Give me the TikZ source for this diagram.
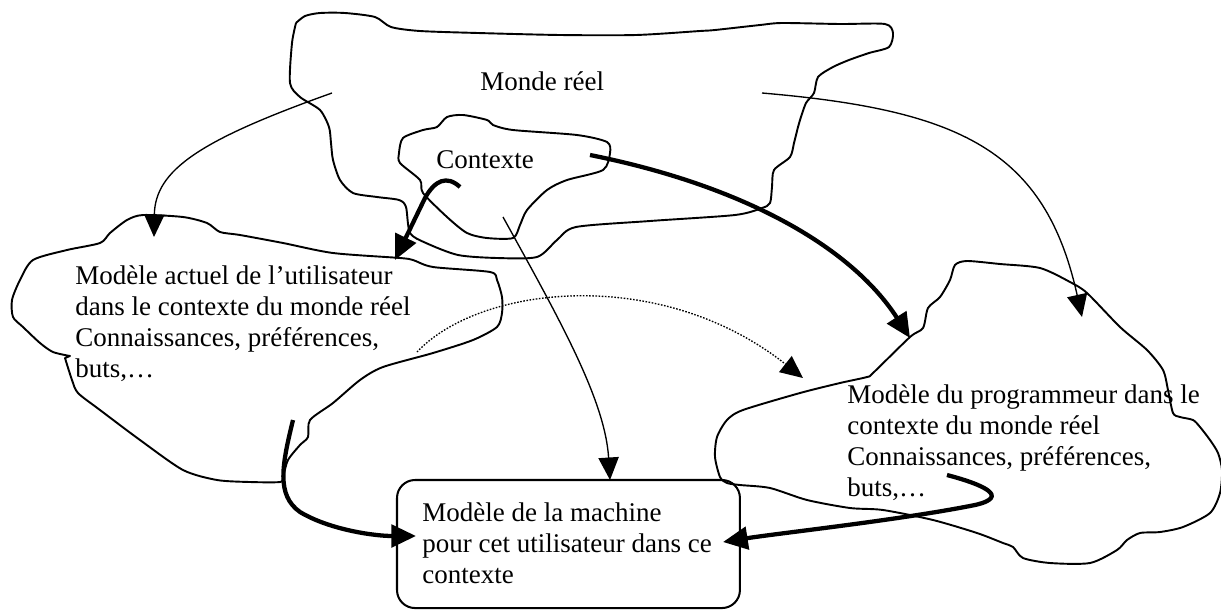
\documentclass[tikz,border=0pt]{standalone}
\usepackage{fontspec}
\setmainfont{Liberation Serif}
\usetikzlibrary{arrows.meta}
\newcommand{\lines}[1]{\begin{tabular}[t]{@{}l@{}}#1\end{tabular}}
\begin{document}
\begin{tikzpicture}[x=0.4444pt,y=-0.4444pt,
  outline/.style={line width=0.85pt, line join=round},
  thinarrow/.style={line width=0.6pt,-{Triangle[length=10pt,width=9pt]}},
  thickarrow/.style={line width=1.9pt,-{Triangle[length=11pt,width=10pt]}},
  dotarrow/.style={line width=0.6pt, dash pattern=on 0.7pt off 0.7pt, -{Triangle[length=10pt,width=9pt]}},
  lbl/.style={inner sep=0pt, anchor=base west, font=\fontsize{12}{13.8}\selectfont},
  machbox/.style={draw, line width=0.9pt, rounded corners=8pt, inner sep=0pt, outer sep=0pt, anchor=north west, minimum width=152.4pt, minimum height=56.9pt}]
\useasboundingbox (0,0) rectangle (1221,610);

% Monde reel cloud
\draw[outline] plot[smooth, tension=0.45] coordinates {
(296,23) (305,16) (320,13) (345,13) (375,17) (391,27) (420,31) (478,33) (560,35) (636,35) (700,31) (715,30) (760,25) (782,23) (840,24) (885,24) (893,33) (889,47) (869,53) (849,60) (833,67) (818,77) (814,93) (806,103) (800,120) (798,127) (794,143) (790,157) (774,170) (772,187) (770,203) (762,208) (735,215) (650,221) (576,227) (557,240) (537,257) (497,258) (458,255) (426,243) (410,233) (406,207) (399,200) (377,197) (353,193) (340,180) (333,160) (331,143) (329,127) (320,110) (300,97) (290,83) (292,43) (296,23)};

% Contexte cloud
\draw[outline] plot[smooth cycle, tension=0.45] coordinates {
(399,153) (403,138) (423,130) (437,127) (447,117) (463,115) (487,120) (493,125) (513,130) (577,135) (607,142) (610,153) (603,170) (567,180) (547,190) (527,210) (520,225) (513,238) (487,238) (467,233) (447,217) (423,193) (420,180) (400,163)};

% user cloud
\draw[outline] plot[smooth, tension=0.45] coordinates {
(65,358) (72,380) (78,393) (100,410) (140,440) (183,470) (217,480) (250,482) (280,482) (283,477) (288,460) (300,445) (308,437) (310,420) (333,403) (360,380) (383,367) (433,353) (473,340) (497,327) (502,313) (502,297) (497,280) (490,272) (433,267) (413,260) (400,258) (333,253) (283,243) (240,235) (220,232) (207,223) (183,217) (143,215) (127,220) (110,233) (100,243) (67,250) (33,260) (20,280) (12,300) (13,317) (23,327) (40,343) (53,352) (70,356)} -- cycle;

% programmer cloud
\draw[outline] plot[smooth cycle, tension=0.45] coordinates {
(923,328) (928,308) (940,297) (950,280) (955,265) (967,261) (1000,264) (1040,268) (1070,282) (1087,293) (1120,327) (1147,350) (1163,370) (1168,390) (1173,413) (1180,417) (1193,420) (1200,427) (1210,440) (1218,453) (1222,470) (1220,493) (1210,513) (1183,527) (1160,532) (1140,533) (1127,540) (1117,550) (1090,563) (1050,563) (1023,558) (1013,547) (1003,543) (977,533) (933,520) (883,510) (850,508) (807,500) (770,488) (740,485) (727,483) (720,477) (715,457) (717,437) (727,420) (743,410) (800,393) (840,383) (867,377) (873,373) (910,337)};

% machine box
\node[machbox] (box) at (397,480) {};

% labels
\node[lbl] (monde) at (480,90) {Monde réel};
\node[lbl] (ctx) at (436,168) {Contexte};
\node[lbl] (user) at (75,284) {\lines{Modèle actuel de l’utilisateur\\dans le contexte du monde réel\\Connaissances, préférences,\\buts,…}};
\node[lbl] (prog) at (847,403) {\lines{Modèle du programmeur dans le\\contexte du monde réel\\Connaissances, préférences,\\buts,…}};
\node[lbl] (mach) at (422,521) {\lines{Modèle de la machine\\pour cet utilisateur dans ce\\contexte}};

% connector end points
\coordinate (mondeL) at (332,93);
\coordinate (mondeR) at (762,93);
\coordinate (ctxR) at (590,155);
\coordinate (ctxHook) at (460,187);
\coordinate (ctxB) at (503,217);
\coordinate (userIn) at (154,237);
\coordinate (userTop) at (395,260);
\coordinate (userOut) at (293,420);
\coordinate (userDot) at (417,352);
\coordinate (progTop) at (1082,317);
\coordinate (progL) at (910,338);
\coordinate (progDot) at (803,378);
\coordinate (progOut) at (947,475);
\coordinate (boxT) at (610,480);
\coordinate (boxL) at (416,536);
\coordinate (boxR) at (723,542);

% connectors
\draw[thinarrow] (mondeL) .. controls (200,140) and (155,170) .. (userIn);
\draw[thinarrow] (mondeR) .. controls (960,110) and (1045,150) .. (progTop);
\draw[thickarrow] (ctxR) .. controls (740,185) and (850,245) .. (progL);
\draw[thickarrow] (ctxHook) .. controls (447,175) and (435,180) .. (425,198) -- (userTop);
\draw[thinarrow] (ctxB) .. controls (560,320) and (605,400) .. (boxT);
\draw[dotarrow] (userDot) .. controls (480,285) and (660,265) .. (progDot);
\draw[thickarrow] (userOut) .. controls (282,465) and (276,495) .. (300,512) .. controls (330,530) and (375,536) .. (boxL);
\draw[thickarrow] (progOut) .. controls (985,485) and (1010,497) .. (975,505) .. controls (900,520) and (780,533) .. (boxR);
\end{tikzpicture}
\end{document}
